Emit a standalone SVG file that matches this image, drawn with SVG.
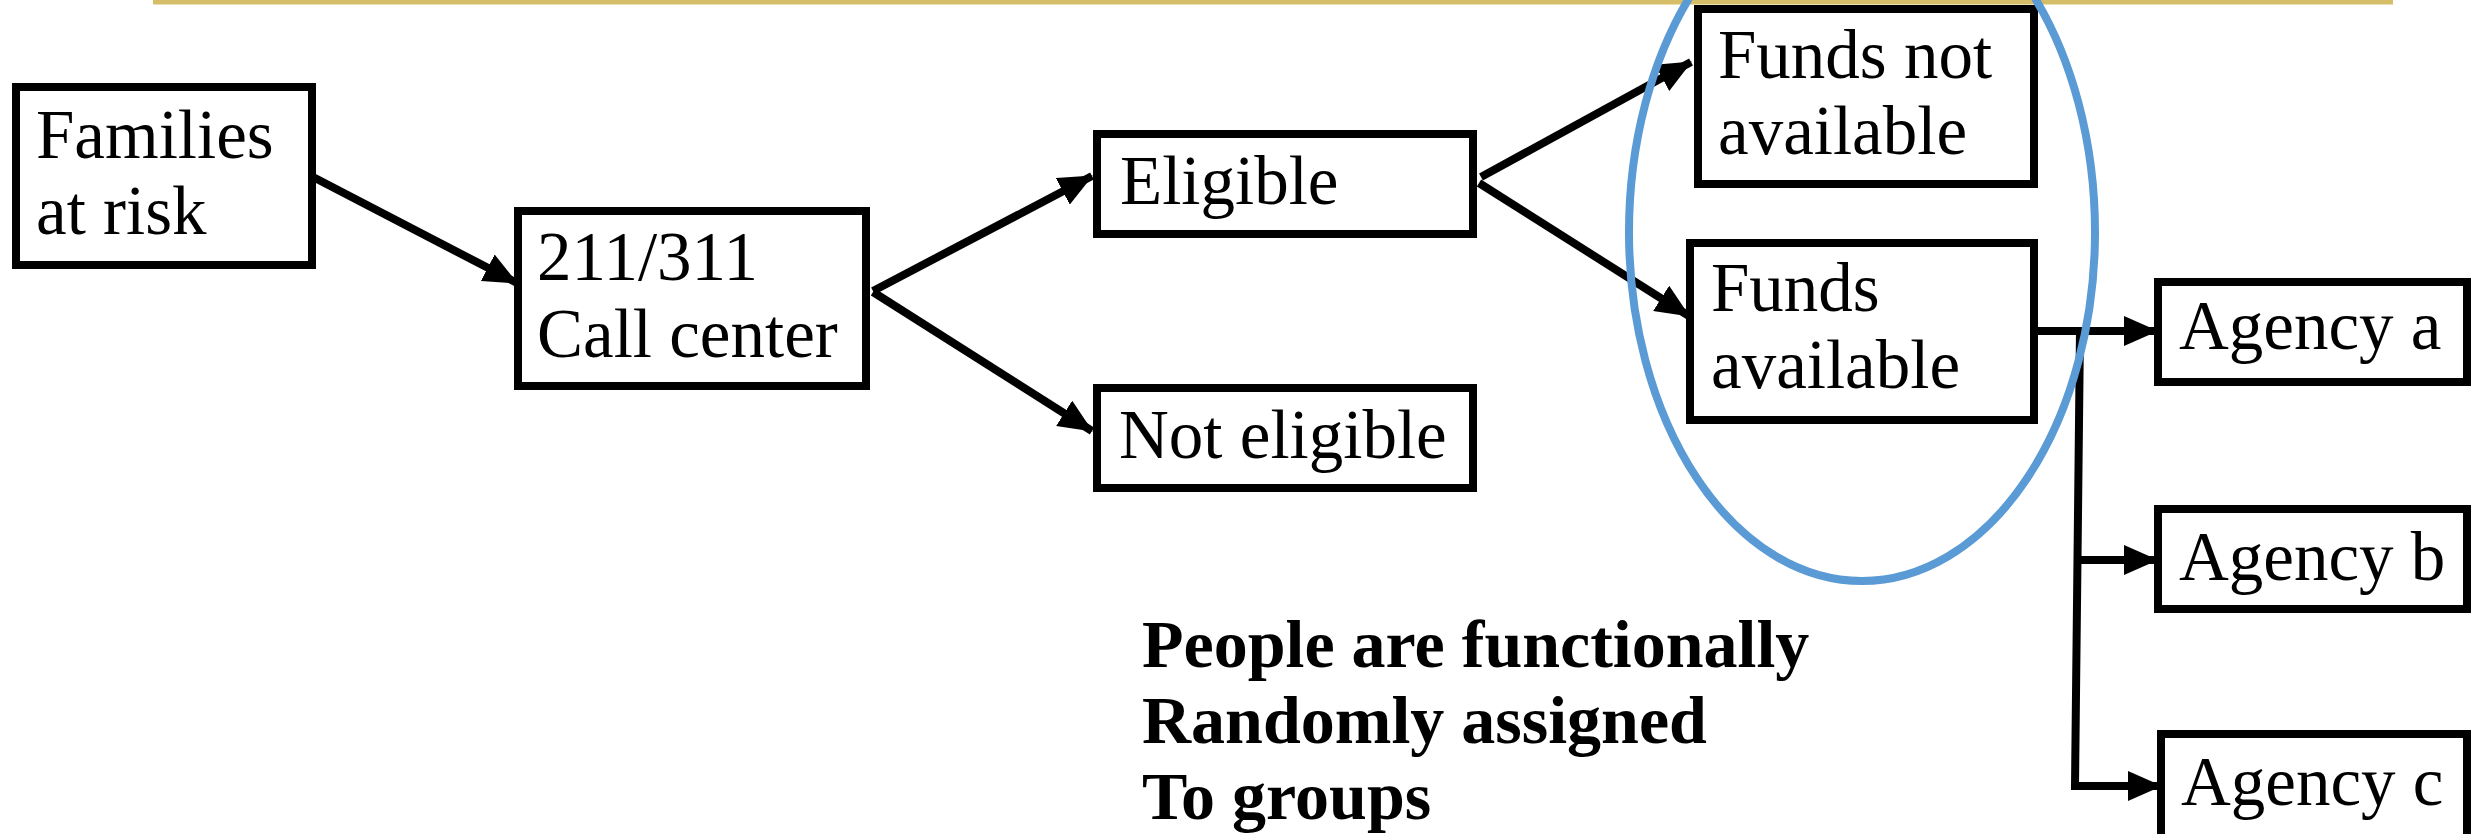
<svg xmlns="http://www.w3.org/2000/svg" width="2481" height="834" viewBox="0 0 2481 834">
<defs>
<style>
.box{fill:#fff;stroke:#000;stroke-width:8}
.t{font-family:"Liberation Serif","Times New Roman",serif;font-size:69px;fill:#000}
.b{font-family:"Liberation Serif","Times New Roman",serif;font-size:68px;font-weight:bold;fill:#000}
.c{stroke:#000;stroke-width:8;fill:none}
</style>
<marker id="ah" markerUnits="userSpaceOnUse" markerWidth="34" markerHeight="30" viewBox="0 0 34 30" refX="33" refY="15" orient="auto">
<path d="M0,0 L34,15 L0,30 Z" fill="#000"/>
</marker>
</defs>
<rect width="2481" height="834" fill="#fff"/>
<line x1="153" y1="2" x2="2393" y2="2" stroke="#D6BD68" stroke-width="5"/>
<g id="connectors">
<line class="c" x1="313" y1="177" x2="517" y2="283" marker-end="url(#ah)"/>
<line class="c" x1="873" y1="291" x2="1092" y2="176" marker-end="url(#ah)"/>
<line class="c" x1="873" y1="292" x2="1092" y2="431" marker-end="url(#ah)"/>
<line class="c" x1="1481" y1="177" x2="1691" y2="62" marker-end="url(#ah)"/>
<line class="c" x1="1479" y1="183" x2="1689" y2="316" marker-end="url(#ah)"/>
<line class="c" x1="2036" y1="331" x2="2157" y2="331" marker-end="url(#ah)"/>
<polyline class="c" points="2080,331 2075,786 2161,786" marker-end="url(#ah)"/>
<line class="c" x1="2077" y1="560" x2="2157" y2="560" marker-end="url(#ah)"/>
</g>
<g id="families">
<rect class="box" x="16" y="87" width="296" height="178"/>
<text class="t" x="36" y="158">Families</text>
<text class="t" x="36" y="234">at risk</text>
</g>
<g id="callcenter">
<rect class="box" x="518" y="211" width="348" height="175"/>
<text class="t" x="537" y="280">211/311</text>
<text class="t" x="537" y="357">Call center</text>
</g>
<g id="eligible">
<rect class="box" x="1097" y="134" width="376" height="100"/>
<text class="t" x="1120" y="204">Eligible</text>
</g>
<g id="noteligible">
<rect class="box" x="1097" y="388" width="376" height="100"/>
<text class="t" x="1119" y="458">Not eligible</text>
</g>
<g id="fundsnot">
<rect class="box" x="1698" y="9" width="336" height="175"/>
<text class="t" x="1718" y="78">Funds not</text>
<text class="t" x="1718" y="154">available</text>
</g>
<g id="fundsavail">
<rect class="box" x="1690" y="243" width="344" height="177"/>
<text class="t" x="1711" y="311">Funds</text>
<text class="t" x="1711" y="388">available</text>
</g>
<g id="agencya">
<rect class="box" x="2158" y="282" width="309" height="100"/>
<text class="t" x="2179" y="349">Agency a</text>
</g>
<g id="agencyb">
<rect class="box" x="2158" y="509" width="309" height="100"/>
<text class="t" x="2179" y="580">Agency b</text>
</g>
<g id="agencyc">
<rect class="box" x="2161" y="734" width="306" height="120"/>
<text class="t" x="2181" y="805">Agency c</text>
</g>
<g id="ellipse">
<ellipse cx="1862" cy="232" rx="233" ry="349" fill="none" stroke="#5B9BD5" stroke-width="8"/>
</g>
<g id="note">
<text class="b" x="1142" y="667">People are functionally</text>
<text class="b" x="1142" y="743">Randomly assigned</text>
<text class="b" x="1142" y="819">To groups</text>
</g>
</svg>
